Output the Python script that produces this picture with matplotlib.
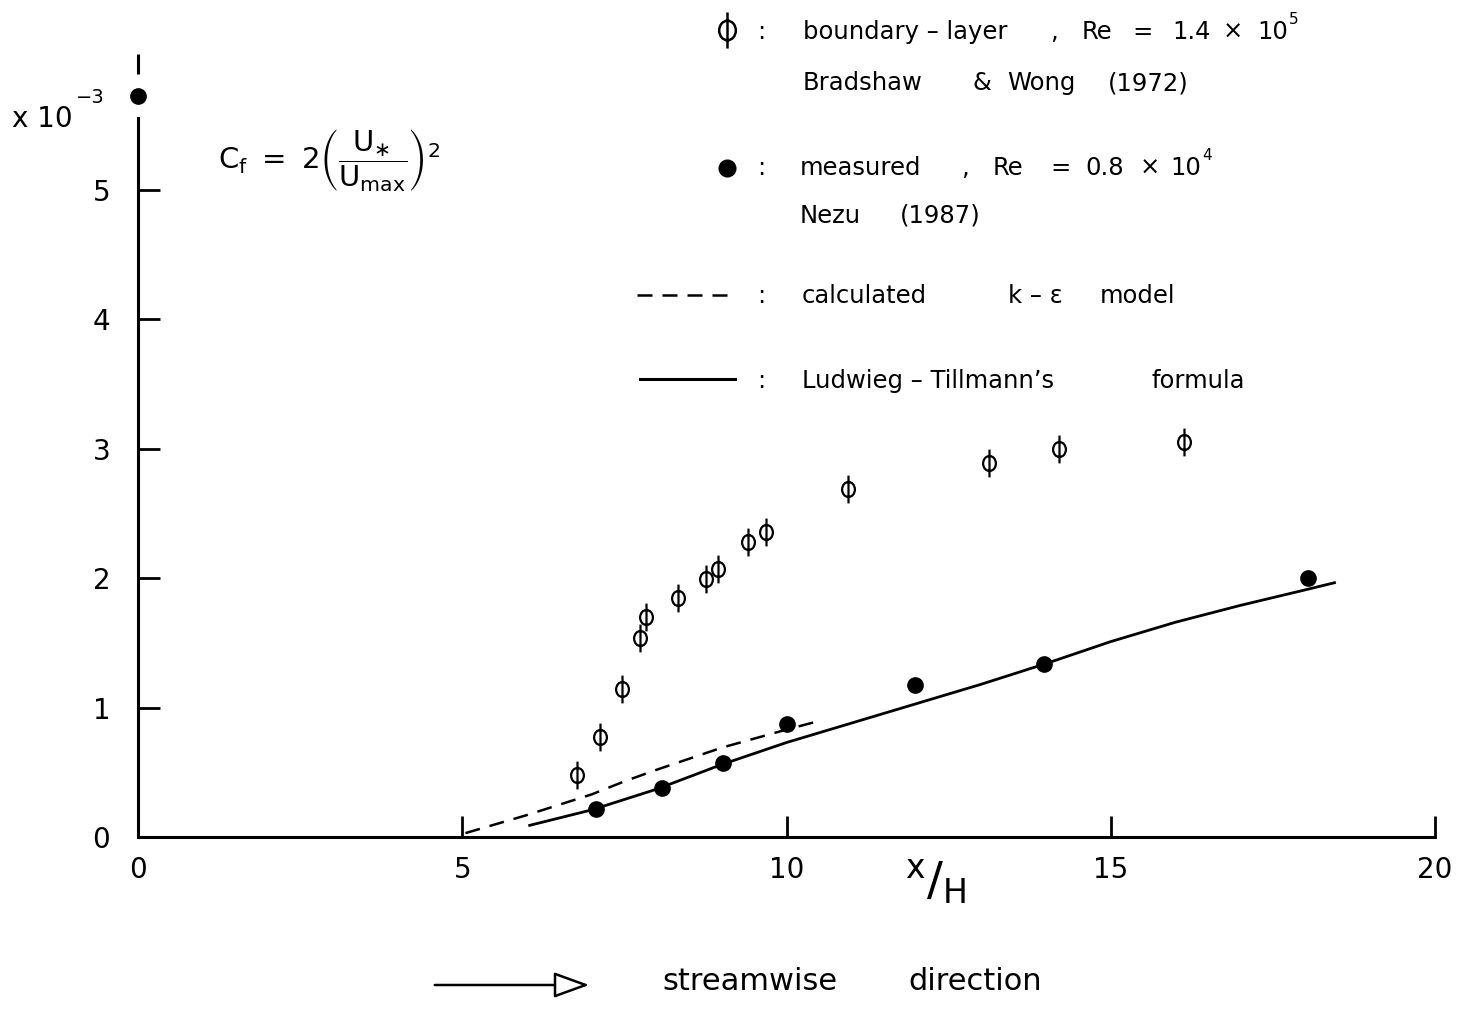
import numpy as np
import matplotlib
matplotlib.use('Agg')
import matplotlib.pyplot as plt
import matplotlib.path as mpath

W, H = 1471, 1009

# boundary-layer, Bradshaw & Wong (1972)
bl_x = [6.77, 7.12, 7.46, 7.74, 7.83, 8.33, 8.76, 8.94, 9.41, 9.68, 10.95, 13.13, 14.20, 16.13]
bl_y = [0.48, 0.77, 1.14, 1.54, 1.70, 1.85, 1.99, 2.07, 2.28, 2.36, 2.69, 2.89, 3.00, 3.05]

# measured, Nezu (1987)
meas_x = [0.0, 7.06, 8.08, 9.02, 10.0, 11.98, 13.97, 18.04]
meas_y = [5.73, 0.22, 0.38, 0.57, 0.87, 1.175, 1.34, 2.00]

# calculated k-eps model
keps_x = [5.05, 6.0, 7.0, 7.5, 8.0, 9.0, 9.5, 10.0, 10.45]
keps_y = [0.03, 0.17, 0.33, 0.43, 0.52, 0.69, 0.76, 0.83, 0.89]

# Ludwieg-Tillmann's formula
lt_x = [6.04, 7.0, 8.0, 9.0, 10.0, 11.0, 12.0, 13.0, 14.0, 15.0, 16.0, 17.0, 18.0, 18.45]
lt_y = [0.09, 0.21, 0.37, 0.56, 0.73, 0.88, 1.03, 1.18, 1.34, 1.51, 1.66, 1.79, 1.91, 1.965]

# stray mark above the first point
top_x = [0.0]
top_y = [5.97]

xticks = [0, 5, 10, 15, 20]
yticks = [0, 1, 2, 3, 4, 5]


def px(x, y):
    return x / W, 1 - y / H


def words(row, base, size):
    # the original lettering is widely spaced, so set it in pieces
    for w, x in row:
        fig.text(*px(x, base), w, fontsize=size, va='baseline', ha='left')


# phi-like marker: ellipse with a vertical bar through it
circ = mpath.Path.unit_circle()
circ = mpath.Path(circ.vertices * [0.46, 0.54], circ.codes)
bar = mpath.Path([(0, -1), (0, 1)], [mpath.Path.MOVETO, mpath.Path.LINETO])
phi = mpath.Path.make_compound_path(circ, bar)

plt.rcParams['font.family'] = 'DejaVu Sans'
plt.rcParams['mathtext.fontset'] = 'dejavusans'

fig = plt.figure(figsize=(W / 100, H / 100), dpi=100)
fig.patch.set_facecolor('white')
ax = fig.add_axes([138 / W, (H - 837) / H, (1435 - 138) / W, 6.4 * 129.4 / H])
ax.set_xlim(0, 20)
ax.set_ylim(0, 6.4)

dash = (0, (6, 4))
ax.plot(keps_x, keps_y, color='black', lw=1.8, linestyle=dash)
ax.plot(lt_x, lt_y, color='black', lw=2.0)
ax.plot(bl_x, bl_y, linestyle='none', marker=phi, markersize=20, mfc='none',
        mec='black', mew=1.6)
ax.plot(meas_x, meas_y, linestyle='none', marker='o', markersize=11, color='black',
        clip_on=False)
ax.plot(top_x, top_y, linestyle='none', marker='|', markersize=14, mew=2.2,
        color='black', clip_on=False)

for s in ['top', 'right']:
    ax.spines[s].set_visible(False)
ax.spines['left'].set_bounds(0, 5.56)
ax.spines['left'].set_linewidth(2.2)
ax.spines['bottom'].set_linewidth(2.2)

ax.set_xticks(xticks)
ax.set_xticklabels([str(v) for v in xticks])
ax.set_yticks(yticks)
ax.set_yticklabels([str(v) for v in yticks])
ax.tick_params(axis='x', direction='in', length=15, width=2.0, pad=14, labelsize=20)
ax.tick_params(axis='y', direction='in', length=16, width=2.0, pad=20, labelsize=20)

# y scale note
fig.text(*px(12, 127), 'x 10', fontsize=20, va='baseline', ha='left')
fig.text(*px(76, 103), '\u22123', fontsize=14, va='baseline', ha='left')

# formula
fig.text(*px(218, 160),
         r'$\mathregular{C_f\ =\ 2\left(\dfrac{U_{\ast}}{U_{max}}\right)^{2}}$',
         fontsize=21, va='center', ha='left')

# x axis label x/H
fig.text(*px(905, 896), r'$\mathregular{{}^{x}/{}_{H}}$', fontsize=34,
         va='baseline', ha='left')

# legend block
fs = 17.5
ax.plot(*[[(727 - 138) / 64.85], [(837 - 30) / 129.4]], marker=phi, markersize=26,
        mfc='none', mec='black', mew=1.8, clip_on=False)
ax.plot(*[[(727 - 138) / 64.85], [(837 - 168) / 129.4]], marker='o', markersize=12,
        color='black', clip_on=False)
fig.lines.append(plt.Line2D([637 / W, 737 / W], [1 - 295 / H] * 2, color='black',
                            lw=1.8, linestyle=dash, transform=fig.transFigure))
fig.lines.append(plt.Line2D([640 / W, 735 / W], [1 - 379 / H] * 2, color='black',
                            lw=2.2, transform=fig.transFigure))
for b in [39, 175, 303, 388]:
    fig.text(*px(757, b), ':', fontsize=fs, va='baseline')

words([('boundary \u2013 layer', 803), (',', 1050), ('Re', 1082), ('=', 1132),
       ('1.4', 1172), ('\u00d7', 1223), ('10', 1257)], 39, fs)
fig.text(*px(1289, 24), '5', fontsize=11, va='baseline')
words([('Bradshaw', 803), ('&', 972), ('Wong', 1007), ('(1972)', 1108)], 90, fs)
words([('measured', 800), (',', 961), ('Re', 993), ('=', 1050), ('0.8', 1085),
       ('\u00d7', 1140), ('10', 1170)], 175, fs)
fig.text(*px(1202, 160), '4', fontsize=11, va='baseline')
words([('Nezu', 800), ('(1987)', 900)], 223, fs)
words([('calculated', 802), ('k \u2013 \u03b5', 1008), ('model', 1100)], 303, fs)
words([('Ludwieg \u2013 Tillmann\u2019s', 802), ('formula', 1152)], 388, fs)

# streamwise direction
ax.annotate('', xy=(592, H - 985), xytext=(432, H - 985),
            xycoords='figure pixels', textcoords='figure pixels',
            arrowprops=dict(arrowstyle='-|>,head_length=1.1,head_width=0.4',
                            mutation_scale=20, fc='white', ec='black', lw=1.8))
words([('streamwise', 662), ('direction', 908)], 990, 22)

fig.savefig('out.png', dpi=100)
